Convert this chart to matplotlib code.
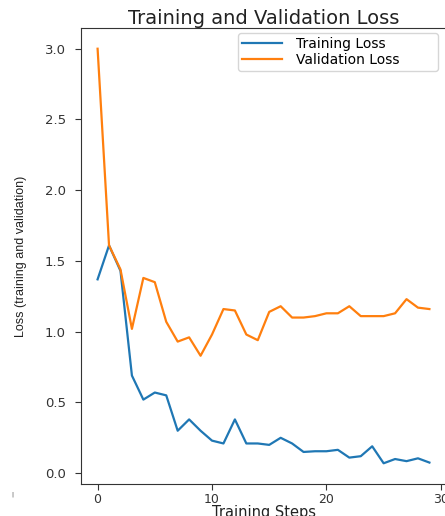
import matplotlib
matplotlib.use("Agg")
import matplotlib.pyplot as plt

steps = list(range(30))
training_loss = [1.37, 1.61, 1.43, 0.69, 0.52, 0.57, 0.55, 0.30, 0.38, 0.30,
                 0.23, 0.21, 0.38, 0.21, 0.21, 0.20, 0.25, 0.21, 0.15, 0.155,
                 0.155, 0.165, 0.11, 0.12, 0.19, 0.07, 0.10, 0.085, 0.105, 0.075]
validation_loss = [3.0, 1.61, 1.44, 1.02, 1.38, 1.35, 1.07, 0.93, 0.96, 0.83,
                   0.98, 1.16, 1.15, 0.98, 0.94, 1.14, 1.18, 1.10, 1.10, 1.11,
                   1.13, 1.13, 1.18, 1.11, 1.11, 1.11, 1.13, 1.23, 1.17, 1.16]
xtick_values = [0, 10, 20, 30]

W, H = 445, 516
fig = plt.figure(figsize=(W / 100, H / 100), dpi=100)
ax = fig.add_axes([81 / W, 1 - 484 / H, 365 / W, 456 / H])
ax.plot(steps, training_loss, color="#1f77b4", lw=1.6, label="Training Loss")
ax.plot(steps, validation_loss, color="#ff7f0e", lw=1.6, label="Validation Loss")

ax.set_title("Training and Validation Loss", fontsize=14, pad=2, color="#222222")
ax.set_xlabel("Training Steps", fontsize=10.5, labelpad=-1, color="#222222")
ax.set_ylabel("Loss (training and validation)", fontsize=9,
              family=["Liberation Sans", "DejaVu Sans"], color="#222222")
ax.yaxis.set_label_coords((27 - 81) / 365, 0.5)

ax.set_xticks(xtick_values)
ax.tick_params(axis="x", labelsize=9, pad=2.5, length=4, colors="#333333")
ax.tick_params(axis="y", labelsize=9.5, pad=7, length=4, colors="#333333")
for s in ax.spines.values():
    s.set_color("#333333")

ax.legend(loc="upper right", bbox_to_anchor=((238 - 81) / 365, 0, 200 / 365, 1 - 5 / 456),
          mode="expand", borderaxespad=0, fontsize=10, handlelength=2.9,
          handletextpad=1.0, labelspacing=0.1, borderpad=0.3)

fig.text(12 / W, 1 - 494.5 / H, "|", fontsize=4, ha="center", va="center", color="#333333")
fig.savefig("out.png", dpi=100)
